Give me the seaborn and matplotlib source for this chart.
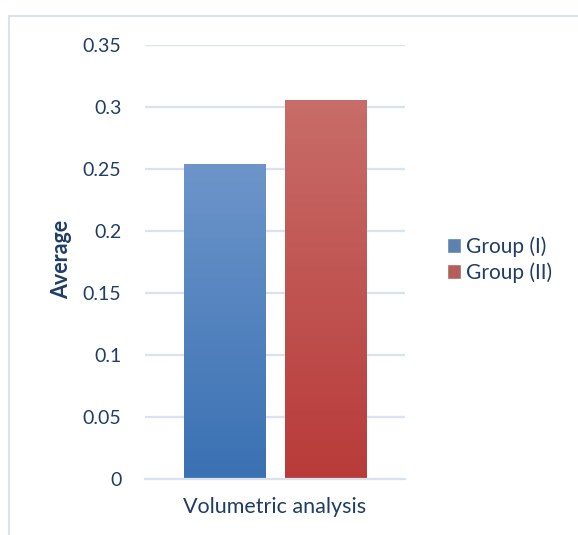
import numpy as np
import pandas as pd
import matplotlib.pyplot as plt
import matplotlib.colors as mcolors
from matplotlib.patches import Rectangle
from matplotlib.ticker import FuncFormatter
import seaborn as sns

# Data
categories = ['Volumetric analysis']
groups = ['Group (I)', 'Group (II)']
averages = [0.254, 0.306]

df = pd.DataFrame({'category': categories * len(groups), 'group': groups, 'average': averages})

text_color = '#1f3d66'
grid_color = '#d9e3f0'
# (top, bottom) gradient colours for each bar
grad_colors = {'Group (I)': ('#6d95ca', '#3a71b3'),
               'Group (II)': ('#c86d69', '#b83b39')}
mid_colors = ['#4f80bd', '#c0504d']

sns.set_style('white')
plt.rcParams['font.family'] = ['Lato', 'DejaVu Sans']

fig = plt.figure(figsize=(5.78, 5.35), dpi=100)
ax = fig.add_axes([145 / 578, 1 - 479 / 535, 260 / 578, 434 / 535])

sns.barplot(data=df, x='category', y='average', hue='group', palette=mid_colors,
            gap=0.19, width=0.8, ax=ax, legend=True)

# Gradient fill for each bar
for patch, grp in zip(ax.patches[:len(groups)], groups):
    x0, y0 = patch.get_x(), patch.get_y()
    w, h = patch.get_width(), patch.get_height()
    cmap = mcolors.LinearSegmentedColormap.from_list('g', [grad_colors[grp][1], grad_colors[grp][0]])
    grad = np.linspace(0, 1, 256).reshape(-1, 1)
    im = ax.imshow(grad, cmap=cmap, origin='lower', aspect='auto',
                   extent=[x0, x0 + w, y0, y0 + h], zorder=patch.get_zorder() + 0.1)
    im.set_clip_path(patch)
    patch.set_edgecolor('none')

ax.set_xlim(-0.518, 0.518)
ax.set_ylim(0, 0.35)
ax.set_yticks(np.arange(0, 0.351, 0.05))
ax.yaxis.set_major_formatter(FuncFormatter(lambda v, p: f'{round(v, 2):g}'))
ax.grid(axis='y', color=grid_color, linewidth=1.6)
ax.set_axisbelow(True)
for side in ['top', 'right', 'left']:
    ax.spines[side].set_visible(False)
ax.spines['bottom'].set_color(grid_color)
ax.spines['bottom'].set_linewidth(1.6)
ax.tick_params(axis='y', length=0, pad=17, labelsize=14, labelcolor=text_color)
ax.tick_params(axis='x', length=0, pad=13, labelsize=15.5, labelcolor=text_color)
ax.set_xlabel('')
ax.set_ylabel('Average', fontsize=15.5, fontweight='bold', color=text_color)
ax.yaxis.set_label_coords(-0.28, 0.505)

handles, labels = ax.get_legend_handles_labels()
ax.legend(handles, labels, loc='center left', bbox_to_anchor=(447 / 578, 1 - 259.5 / 535),
          bbox_transform=fig.transFigure, frameon=False, fontsize=15, borderpad=0,
          borderaxespad=0, labelcolor=text_color, handlelength=0.68, handleheight=0.68,
          handletextpad=0.25, labelspacing=0.25)

# Chart area border
fig.patches.append(Rectangle((9 / 578, -0.1), 1.2, 1.1 - 16 / 535, transform=fig.transFigure,
                             fill=False, edgecolor=grid_color, linewidth=1.5))

fig.savefig('out.png', dpi=100)
